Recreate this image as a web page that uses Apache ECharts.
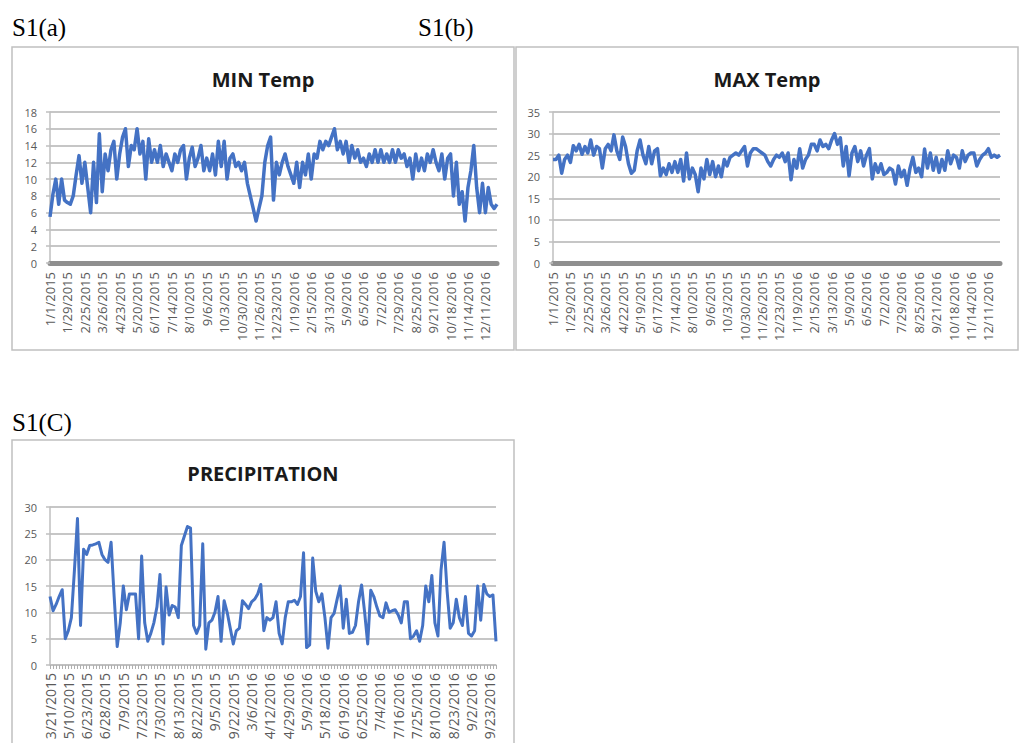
<!DOCTYPE html>
<html><head><meta charset="utf-8">
<script src="https://cdn.jsdelivr.net/npm/echarts@6/dist/echarts.min.js"></script>
<style>html,body{margin:0;padding:0;background:#fff}#c{width:1021px;height:743px}</style>
</head><body><div id="c"></div>
<script>
// ---- tick labels (every STEP-th point is labelled) ----
const minTempLabels = ['1/1/2015','1/29/2015','2/25/2015','3/26/2015','4/23/2015','5/20/2015','6/17/2015','7/14/2015','8/10/2015','9/6/2015','10/3/2015','10/30/2015','11/26/2015','12/23/2015','1/19/2016','2/15/2016','3/13/2016','5/9/2016','6/5/2016','7/2/2016','7/29/2016','8/25/2016','9/21/2016','10/18/2016','11/14/2016','12/11/2016'];
const maxTempLabels = ['1/1/2015','1/29/2015','2/25/2015','3/26/2015','4/22/2015','5/19/2015','6/17/2015','7/14/2015','8/10/2015','9/6/2015','10/3/2015','10/30/2015','11/26/2015','12/23/2015','1/19/2016','2/15/2016','3/13/2016','5/9/2016','6/5/2016','7/2/2016','7/29/2016','8/25/2016','9/21/2016','10/18/2016','11/14/2016','12/11/2016'];
const precipLabels = ['3/21/2015','5/10/2015','6/23/2015','6/28/2015','7/9/2015','7/23/2015','7/30/2015','8/13/2015','8/22/2015','9/5/2015','9/22/2015','3/6/2016','4/12/2016','4/29/2016','5/9/2016','5/18/2016','6/19/2016','6/25/2016','7/4/2016','7/16/2016','7/25/2016','8/10/2016','8/23/2016','9/2/2016','9/23/2016'];

// ---- series values ----
const minTemp = [
5.5,8.2,10,7,10,7.5, 7.2,7,8,10.5,12.8,9.5, 12,9,6,12,7.2,15.4, 8.5,13,11,13.5,14.5,10,
13,15,16,11.5,14,13.5, 16,13,14.5,10,14.8,12, 13.5,12,14,11.5,13,12, 11,13,12,13.5,14,10,
12.5,13.8,11.5,12.5,14,11, 12.5,11,13,10.5,14.5,11.5, 14.5,10,12.5,13,11.5,12, 11,12,9.5,8,6.5,5,
6.5,8,12,14,15,7.5, 12,10.5,12,13,11.5,10.5, 9.5,12,9,12,10.5,13, 10,13,12.5,14.5,13.5,14.5,
14,15,16,13.5,14.5,13, 14.5,12,14,12.5,13.5,12, 12.5,11.5,13,12,13.5,12, 13.5,12,13,12,13.5,12,
13.5,12.5,13,11.5,12.5,10, 13,11,12.5,11,13,12, 13.5,12,11,13,10,12.5, 13,8,12,7,8.5,5,
9,11,14,9,6,9.5, 6,9,7,6.5,7];
const maxTemp = [
24,24,25,20.8,24,25, 23.3,27.2,26,27.5,25.2,27, 25.5,28.5,25,27,26.5,22, 26.5,27.5,26,29.7,26,24,
29.2,27,23,20.8,21.5,26, 28.5,25,23,27,23,26, 26.5,20.2,22,20.5,23,21, 23.5,21,24,19,25.5,19.5,
22,20.5,16.5,22,19.5,24, 20.5,23.5,20,22.5,20,24, 22.5,24.5,25,25.5,25,26, 27,22.5,25.5,26.5,26.5,26,
25.5,25,23.5,22.5,24,25, 24.5,25.5,23.5,25.5,19.3,24, 22,26.5,22,24,25,27.5, 27.5,26,28.5,27,27.5,26.5,
28.5,30,27.5,29,22.5,27, 20.2,25.5,27,23.5,26,22.5, 25,26.5,19.5,23,21,23, 20.5,21,22,21.5,18.3,22.5,
20,21.5,18,22,24.5,21, 22,20,26.4,22,25.5,21.5, 24.5,21,24,21.5,26,23, 25,24.5,22,26,23.5,25,
25.5,25.5,22.5,24,25,25.5, 26.5,24.5,25,24.5,25];
const precip = [
13,10.3,11.5,13,14.3,5, 6.5,9,18,27.8,7.5,22, 21,22.7,22.8,23,23.3,21, 20,19.5,23.3,13,3.5,8,
15,10.5,13.5,13.5,13.5,5, 20.7,8,4.5,6,8,11, 17.2,4,14.8,9.5,11.3,11, 9,22.7,24.5,26.3,26,7.5,
6,7.5,23,3,8,8.5, 10,13,4.5,12.2,10,7, 4,6.5,7,12.2,11.5,10.7, 12,12.5,13.5,15.3,6.5,9,
8.5,9,12,6,4,9, 12,12,12.3,11.5,13,21.3, 3.3,3.8,20.3,14,12,13.5, 9,3.2,9,9.8,12.5,15,
7,12.5,6,6.2,7.5,12, 15.2,10,4,14.2,13,11, 9.3,9,11.8,10,10.3,10.5, 9.5,8,12,12,5,5.5,
6.5,4.5,7.5,15,12,17, 8,5.5,18,23.3,14,7, 8,12.5,9,7.5,13,6, 5.5,6.5,15,8.5,15.3,13.5,
13,13.3,4.5];

const STEP = 6;
function buildCats(labels, n) {
  const c = [];
  for (let i = 0; i < n; i++) c.push(i % STEP === 0 && i / STEP < labels.length ? labels[i / STEP] : '');
  return c;
}
const labelInterval = (idx) => idx % STEP === 0;

const BLUE = '#4472C4';
const TXT = '#595959';
const GRIDC = '#c6c6c6';
const FONT = '"Open Sans", "Liberation Sans", sans-serif';

function xAxisAB(gi, labels, n) {
  return {
    gridIndex: gi, type: 'category', boundaryGap: false, data: buildCats(labels, n),
    axisLine: { show: true, lineStyle: { color: '#8f8f8f', width: 5 } },
    axisTick: { show: false },
    axisLabel: { interval: labelInterval, rotate: 90, fontSize: 13, color: TXT, fontFamily: FONT, margin: 9 },
    splitLine: { show: false }
  };
}
function yAxisCfg(gi, max, step) {
  return {
    gridIndex: gi, type: 'value', min: 0, max: max, interval: step,
    axisLine: { show: true, lineStyle: { color: '#bfbfbf', width: 1.5 } },
    axisTick: { show: true, length: 4, lineStyle: { color: '#bfbfbf', width: 1.5 } },
    axisLabel: { fontSize: 11, color: TXT, fontFamily: FONT, margin: 13 },
    splitLine: { show: true, lineStyle: { color: GRIDC, width: 2 } }
  };
}

const chart = echarts.init(document.getElementById('c'), null, { renderer: 'svg' });
chart.setOption({
  animation: false,
  backgroundColor: '#fff',
  grid: [
    { left: 50, top: 112, width: 447, height: 151, outerBoundsMode: 'none', containLabel: false },
    { left: 553, top: 112, width: 447, height: 151, outerBoundsMode: 'none', containLabel: false },
    { left: 50, top: 507, width: 446, height: 158, outerBoundsMode: 'none', containLabel: false }
  ],
  xAxis: [
    xAxisAB(0, minTempLabels, minTemp.length),
    xAxisAB(1, maxTempLabels, maxTemp.length),
    {
      gridIndex: 2, type: 'category', boundaryGap: false, data: buildCats(precipLabels, precip.length),
      axisLine: { show: true, lineStyle: { color: '#bfbfbf', width: 1.5 } },
      axisTick: { show: true, interval: 0, length: 4, lineStyle: { color: '#b0b0b0', width: 1 } },
      axisLabel: { interval: labelInterval, rotate: 90, fontSize: 14, color: TXT, fontFamily: FONT, margin: 8 },
      splitLine: { show: false }
    }
  ],
  yAxis: [yAxisCfg(0, 18, 2), yAxisCfg(1, 35, 5), yAxisCfg(2, 30, 5)],
  series: [
    { type: 'line', xAxisIndex: 0, yAxisIndex: 0, data: minTemp, showSymbol: false, lineStyle: { color: BLUE, width: 3.5, join: 'round' }, itemStyle: { color: BLUE } },
    { type: 'line', xAxisIndex: 1, yAxisIndex: 1, data: maxTemp, showSymbol: false, lineStyle: { color: BLUE, width: 3.5, join: 'round' }, itemStyle: { color: BLUE } },
    { type: 'line', xAxisIndex: 2, yAxisIndex: 2, data: precip, showSymbol: false, lineStyle: { color: BLUE, width: 3, join: 'round' }, itemStyle: { color: BLUE } }
  ],
  graphic: { elements: [
    { type: 'rect', shape: { x: 12, y: 47, width: 502, height: 303 }, style: { fill: 'none', stroke: '#c0c0c0', lineWidth: 1.5 } },
    { type: 'rect', shape: { x: 516, y: 47, width: 502, height: 303 }, style: { fill: 'none', stroke: '#c0c0c0', lineWidth: 1.5 } },
    { type: 'rect', shape: { x: 12, y: 440, width: 502, height: 320 }, style: { fill: 'none', stroke: '#c0c0c0', lineWidth: 1.5 } },
    { type: 'text', x: 12, y: 27, style: { text: 'S1(a)', fontSize: 25, fontFamily: '"Liberation Serif", serif', fill: '#000', textVerticalAlign: 'middle', verticalAlign: 'middle' } },
    { type: 'text', x: 418, y: 27, style: { text: 'S1(b)', fontSize: 25, fontFamily: '"Liberation Serif", serif', fill: '#000', textVerticalAlign: 'middle', verticalAlign: 'middle' } },
    { type: 'text', x: 12, y: 422, style: { text: 'S1(C)', fontSize: 25, fontFamily: '"Liberation Serif", serif', fill: '#000', textVerticalAlign: 'middle', verticalAlign: 'middle' } },
    { type: 'text', x: 263, y: 79, style: { text: 'MIN Temp', fontSize: 20, fontWeight: 'bold', fontFamily: FONT, fill: '#1a1a1a', textAlign: 'center', align: 'center', textVerticalAlign: 'middle', verticalAlign: 'middle' } },
    { type: 'text', x: 767, y: 79, style: { text: 'MAX Temp', fontSize: 20, fontWeight: 'bold', fontFamily: FONT, fill: '#1a1a1a', textAlign: 'center', align: 'center', textVerticalAlign: 'middle', verticalAlign: 'middle' } },
    { type: 'text', x: 263, y: 473, style: { text: 'PRECIPITATION', fontSize: 20, fontWeight: 'bold', fontFamily: FONT, fill: '#1a1a1a', textAlign: 'center', align: 'center', textVerticalAlign: 'middle', verticalAlign: 'middle' } }
  ] }
});
</script></body></html>
